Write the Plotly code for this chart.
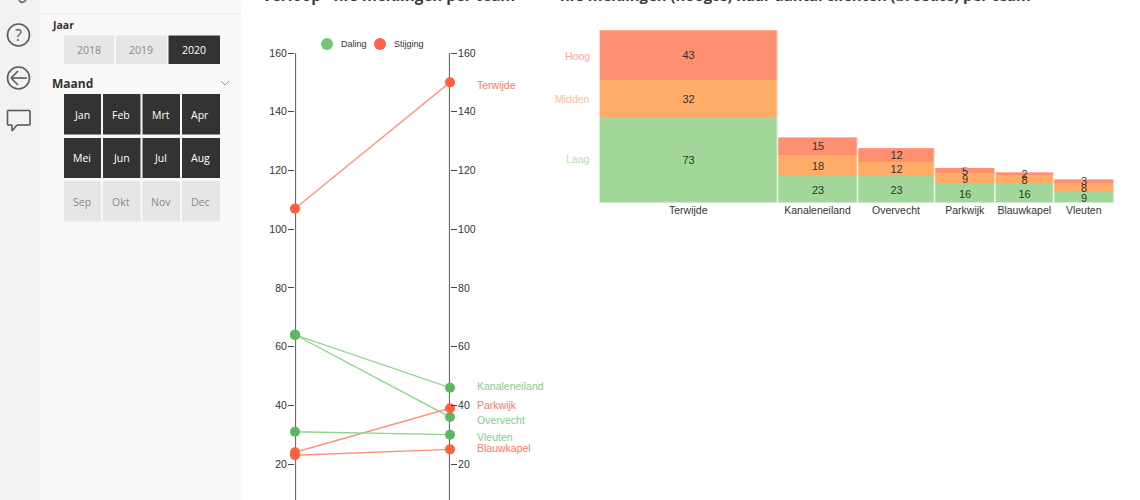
import plotly.graph_objects as go

# ---------- data ----------
teams_slope = ["Terwijde", "Kanaleneiland", "Overvecht", "Parkwijk", "Blauwkapel", "Vleuten"]
start_values = [107, 64, 64, 24, 23, 31]
end_values = [150, 46, 36, 39, 25, 30]
slope_ticks = [20, 40, 60, 80, 100, 120, 140, 160]

mekko_teams = ["Terwijde", "Kanaleneiland", "Overvecht", "Parkwijk", "Blauwkapel", "Vleuten"]
mekko_widths = [178.5, 80, 77, 60.5, 58.5, 60.5]
laag = [73, 23, 23, 16, 16, 9]
midden = [32, 18, 12, 9, 8, 8]
hoog = [43, 15, 12, 5, 2, 3]

years = ["2018", "2019", "2020"]
months = ["Jan", "Feb", "Mrt", "Apr", "Mei", "Jun", "Jul", "Aug", "Sep", "Okt", "Nov", "Dec"]

# ---------- style ----------
W, H = 1140, 500
GREEN, RED = "#5ab85f", "#ff6040"
GREEN_LINE, RED_LINE = "#8fd690", "#ff8f78"
GREEN_TXT, RED_TXT = "#84cc88", "#ff7a62"
ARIAL = "Liberation Sans"
UI = "Open Sans"
TXT = "#333333"


def fx(p):
    return p / W


def fy(p):
    return 1 - p / H


shapes, notes = [], []


def rect(x0, y0, x1, y1, fill, line=None):
    shapes.append(dict(type="rect", xref="paper", yref="paper", x0=fx(x0), x1=fx(x1), y0=fy(y0), y1=fy(y1),
                       fillcolor=fill, line=dict(width=0 if line is None else 1, color=line or fill), layer="below"))


def circle(cx, cy, r, fill="rgba(0,0,0,0)", line="#5a5a5a", width=1.6):
    shapes.append(dict(type="circle", xref="paper", yref="paper", x0=fx(cx - r), x1=fx(cx + r), y0=fy(cy - r),
                       y1=fy(cy + r), fillcolor=fill, line=dict(width=width, color=line), layer="above"))


def poly(points, color="#5a5a5a", width=1.6):
    for (a, b), (c, d) in zip(points, points[1:]):
        shapes.append(dict(type="line", xref="paper", yref="paper", x0=fx(a), x1=fx(c), y0=fy(b), y1=fy(d),
                           line=dict(width=width, color=color)))


def note(x, y, text, size=10.5, color=TXT, family=ARIAL, anchor="left"):
    notes.append(dict(xref="paper", yref="paper", x=fx(x), y=fy(y), text=text, showarrow=False, xanchor=anchor,
                      yanchor="middle", align=anchor, font=dict(size=size, color=color, family=family),
                      borderpad=0, borderwidth=0))


# sidebar backgrounds
rect(0, 0, 40.5, H, "#f3f2f1")
rect(40.5, 0, 241, H, "#faf9f8")
rect(41, 13, 241, 14, "#efeeed")

# sidebar icons
poly([(19, 0), (21, 2.5), (24, 2), (26, 0)], width=1.4)
circle(18.5, 35, 11)
note(18.5, 35, "?", 16, "#5a5a5a", UI, "center")
circle(18.5, 78, 11)
poly([(11, 78), (27, 78)])
poly([(18, 71), (11, 78), (18, 85)])
poly([(7.5, 110.5), (30, 110.5), (30, 125), (17, 125), (12, 131), (12, 125), (7.5, 125), (7.5, 110.5)])
poly([(221, 81), (225, 85), (229, 81)], color="#9a9a9a", width=1)

# slicers
note(52, 25, "<b>Jaar</b>", 10.5, "#333333", UI)
note(52, 83.5, "<b>Maand</b>", 12, "#333333", UI)
year_x = [(64, 114), (116, 167), (168.5, 220)]
for (a, b), label in zip(year_x, years):
    on = label == "2020"
    rect(a, 35.5, b, 64, "#333333" if on else "#e6e6e6")
    note((a + b) / 2 - 0.5, 50, label, 10.5, "#ffffff" if on else "#8a8a8a", UI, "center")
month_x = [(64, 101), (103, 140.5), (142.5, 180), (182, 220)]
month_y = [(94, 134.5), (138, 178), (181, 221.5)]
for i, label in enumerate(months):
    a, b = month_x[i % 4]
    c, d = month_y[i // 4]
    on = i < 8
    rect(a, c, b, d, "#333333" if on else "#e6e6e6")
    note((a + b) / 2 - 0.7, (c + d) / 2 + 0.3, label, 10.5, "#ffffff" if on else "#8a8a8a", UI, "center")

# titles (clipped by the top edge in the reference)
note(262, -5.5, "<b>Verloop - hrs meldingen per team</b>", 15.2, "#3a3a3a", UI)
note(560, -5.5, "<b>hrs meldingen (hoogte) naar aantal cliënten (breedte) per team</b>", 14.9, "#3a3a3a", UI)

fig = go.Figure()

# ---------- slope chart ----------
for team, a, b in zip(teams_slope, start_values, end_values):
    fig.add_trace(go.Scatter(x=[0, 1], y=[a, b], mode="lines", xaxis="x", yaxis="y", showlegend=False,
                             name=team, hoverinfo="skip",
                             line=dict(color=GREEN_LINE if b < a else RED_LINE, width=1.3)))
for team, a, b in zip(teams_slope, start_values, end_values):
    col = GREEN if b < a else RED
    fig.add_trace(go.Scatter(x=[0, 1], y=[a, b], mode="markers", xaxis="x", yaxis="y", showlegend=False,
                             name=team, cliponaxis=False, marker=dict(color=col, size=10, line=dict(width=0))))
# invisible trace pins the right-hand axis
fig.add_trace(go.Scatter(x=[1], y=[end_values[0]], mode="markers", xaxis="x", yaxis="y2", showlegend=False,
                         marker=dict(size=0.1, opacity=0), hoverinfo="skip"))

# axis lines, centred on the two slope positions and placed under the markers
for pos in (0, 1):
    shapes.append(dict(type="line", xref="x", yref="y", x0=pos, x1=pos, y0=7.75, y1=160,
                       line=dict(color="#6a6a6a", width=2.2), layer="below"))

# team labels at the right of the slope chart
label_y = {"Terwijde": 85, "Kanaleneiland": 385.5, "Parkwijk": 405, "Overvecht": 420, "Vleuten": 437,
           "Blauwkapel": 448}
for team, a, b in zip(teams_slope, start_values, end_values):
    note(477, label_y[team], team, 10.5, GREEN_TXT if b < a else RED_TXT)

# legend
circle(327, 44, 6, fill="#74c67a", line="#74c67a", width=0)
note(341, 44.5, "Daling", 9, "#333333")
circle(380, 44, 6, fill="#ff6347", line="#ff6347", width=0)
note(393.5, 44.5, "Stijging", 9, "#333333")

# ---------- mekko ----------
edges = [0]
for w in mekko_widths:
    edges.append(edges[-1] + w)
centers = [(l + r) / 2 for l, r in zip(edges, edges[1:])]
for name, vals, col in [("Laag", laag, "#a1d899"), ("Midden", midden, "#ffac68"), ("Hoog", hoog, "#ff8f70")]:
    fig.add_trace(go.Bar(x=centers, y=vals, width=mekko_widths, name=name, xaxis="x2", yaxis="y3", showlegend=False,
                         text=vals, textposition="inside", textangle=0, constraintext="none",
                         insidetextanchor="middle", insidetextfont=dict(size=11, color="#333333", family=ARIAL),
                         marker=dict(color=col, line=dict(width=0))))

# white separators between the columns and a pale top/outer rim
for e in edges:
    shapes.append(dict(type="line", xref="x2", yref="paper", x0=e, x1=e, y0=fy(202.5), y1=fy(20),
                       line=dict(color="rgba(255,255,255,0.75)", width=1.6), layer="above"))
for l, r, a, b, c in zip(edges, edges[1:], laag, midden, hoog):
    shapes.append(dict(type="line", xref="x2", yref="y3", x0=l, x1=r, y0=a + b + c, y1=a + b + c,
                       line=dict(color="rgba(255,255,255,0.5)", width=1), layer="above"))

note(590, 56, "Hoog", 10.5, "#ffa68f", anchor="right")
note(590, 99, "Midden", 10.5, "#ffc08f", anchor="right")
note(590, 159.5, "Laag", 10.5, "#b5e2ae", anchor="right")

slope_font = dict(size=10.5, color="#333333", family=ARIAL)
tick_font = dict(size=10.5, color="#333333", family=ARIAL)
fig.update_layout(
    width=W, height=H, margin=dict(l=0, r=0, t=0, b=0, autoexpand=False), paper_bgcolor="#ffffff",
    plot_bgcolor="rgba(0,0,0,0)", barmode="stack", bargap=0, showlegend=False, shapes=shapes, annotations=notes,
    font=dict(family=ARIAL),
    xaxis=dict(domain=[fx(295), fx(450)], range=[0, 1], visible=False, fixedrange=True),
    yaxis=dict(domain=[fy(H), fy(53)], range=[7.75, 160], anchor="x", side="left", tickvals=slope_ticks,
               ticks="outside", ticklen=6, tickwidth=1, tickcolor="#444", showline=False,
               ticklabelstandoff=-1, showgrid=False, zeroline=False, tickfont=slope_font),
    yaxis2=dict(domain=[fy(H), fy(53)], range=[7.75, 160], anchor="x", overlaying="y", side="right",
                tickvals=slope_ticks, ticks="outside", ticklen=6, tickwidth=1, tickcolor="#444", showline=False,
                ticklabelstandoff=-1, showgrid=False, zeroline=False, tickfont=slope_font),
    xaxis2=dict(domain=[fx(599), fx(1114)], range=[0, sum(mekko_widths)], anchor="y3", tickvals=centers,
                ticktext=mekko_teams, ticks="", showgrid=False, zeroline=False, showline=False, tickfont=tick_font),
    yaxis3=dict(domain=[fy(202.5), fy(30)], range=[0, sum([laag[0], midden[0], hoog[0]])], anchor="x2", visible=False,
                showgrid=False, zeroline=False),
)

fig.write_html("out.html", post_script="document.body.style.margin='0';", config=dict(displayModeBar=False))
